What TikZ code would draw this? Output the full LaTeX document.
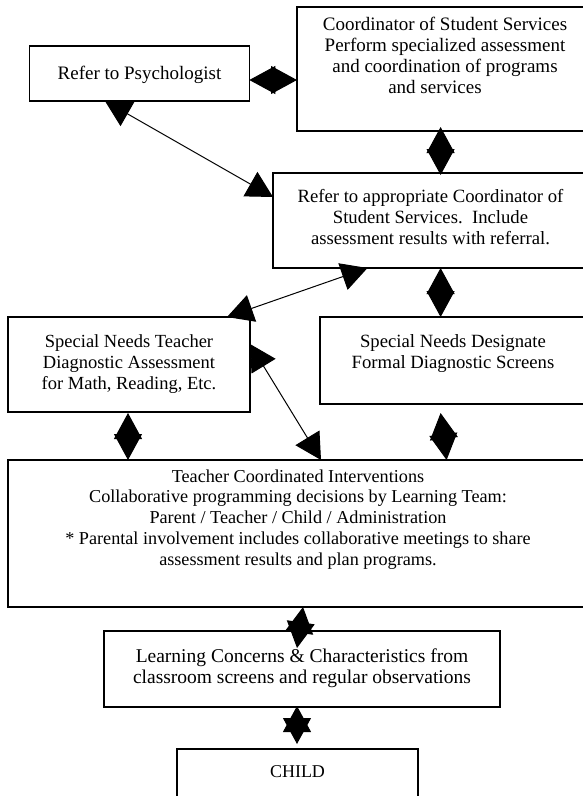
\documentclass[tikz,border=0pt]{standalone}
\usepackage{fontspec}
\setmainfont{Liberation Serif}
\usetikzlibrary{arrows.meta}
\newcommand{\boxtext}[4]{\parbox[c][#2][t]{#1}{\centering\rule{0pt}{#3}#4}}
\tikzset{
  box/.style={draw, line width=1.5pt, inner sep=0pt, outer sep=0pt,
    font=\fontsize{18.7}{21}\selectfont},
  fs/.style={font=\fontsize{#1}{21}\selectfont},
  conn/.style={line width=1pt,
    arrows={Triangle[length=26pt,width=28pt]-Triangle[length=26pt,width=28pt]}}
}
\begin{document}
\begin{tikzpicture}[x=1pt,y=-1pt]
\path[use as bounding box, fill=white] (0,0) rectangle (582,796);

\node[box,fs=19] (psych) at (139.5,73.5) {\boxtext{219.7pt}{55pt}{33pt}{Refer to Psychologist}};
\node[box,fs=19] (coord) at (445,69) {\boxtext{296pt}{124pt}{23pt}{Coordinator of Student Services\\Perform specialized assessment\\and coordination of programs\\and services\hspace*{20pt}}};
\node[box] (refer) at (430.5,220.5) {\boxtext{315pt}{95pt}{29pt}{Refer to appropriate Coordinator of\\Student Services.\ \ Include\\assessment results with referral.}};
\node[box,fs=18.5] (snt) at (129,364.5) {\boxtext{242pt}{95pt}{30pt}{Special Needs Teacher\\Diagnostic Assessment\\for Math, Reading, Etc.}};
\node[box] (snd) at (453,360.5) {\boxtext{266pt}{87pt}{30pt}{Special Needs Designate\\Formal Diagnostic Screens}};
\node[box,font=\fontsize{18.2}{20.8}\selectfont] (tc) at (298,533.5) {\boxtext{580pt}{147pt}{22pt}{Teacher Coordinated Interventions\\Collaborative programming decisions by Learning Team:\\Parent / Teacher / Child / Administration\\{*} Parental involvement includes collaborative meetings to share\\assessment results and plan programs.}};
\node[box,fs=19.5] (learn) at (302,669) {\boxtext{396pt}{76pt}{31pt}{Learning Concerns \& Characteristics from\\classroom screens and regular observations}};
\node[box,fs=18] (child) at (297.5,782) {\boxtext{241pt}{66pt}{28pt}{CHILD}};

% connectors
\draw[conn] ([yshift=-6.5pt]psych.east) -- ([yshift=-11pt]coord.west);
\draw[conn] ([xshift=-4.4pt,yshift=4pt]coord.south) -- ([xshift=10.1pt,yshift=-2pt]refer.north);
\draw[conn] ([xshift=75.3pt]psych.south west) -- ([yshift=23.5pt]refer.west);
\draw[conn] ([xshift=-23pt]snt.north east) -- ([xshift=94.5pt]refer.south west);
\draw[conn] ([xshift=10.1pt]refer.south) -- ([xshift=-12.4pt]snd.north);
\draw[conn] ([yshift=20.5pt]snt.east) -- ([xshift=313pt]tc.north west);
\draw[conn] ([xshift=-1pt,yshift=-1pt]snt.south) -- ([xshift=120pt]tc.north west);
\draw[conn] ([xshift=-12.4pt,yshift=-9pt]snd.south) -- ([xshift=438.6pt]tc.north west);
\draw[conn] ([xshift=295pt]tc.south west) -- ([xshift=-5pt,yshift=-17pt]learn.north);
\draw[conn] ([xshift=-5pt,yshift=1pt]learn.south) -- ([xshift=-0.5pt,yshift=5pt]child.north);
\end{tikzpicture}
\end{document}
